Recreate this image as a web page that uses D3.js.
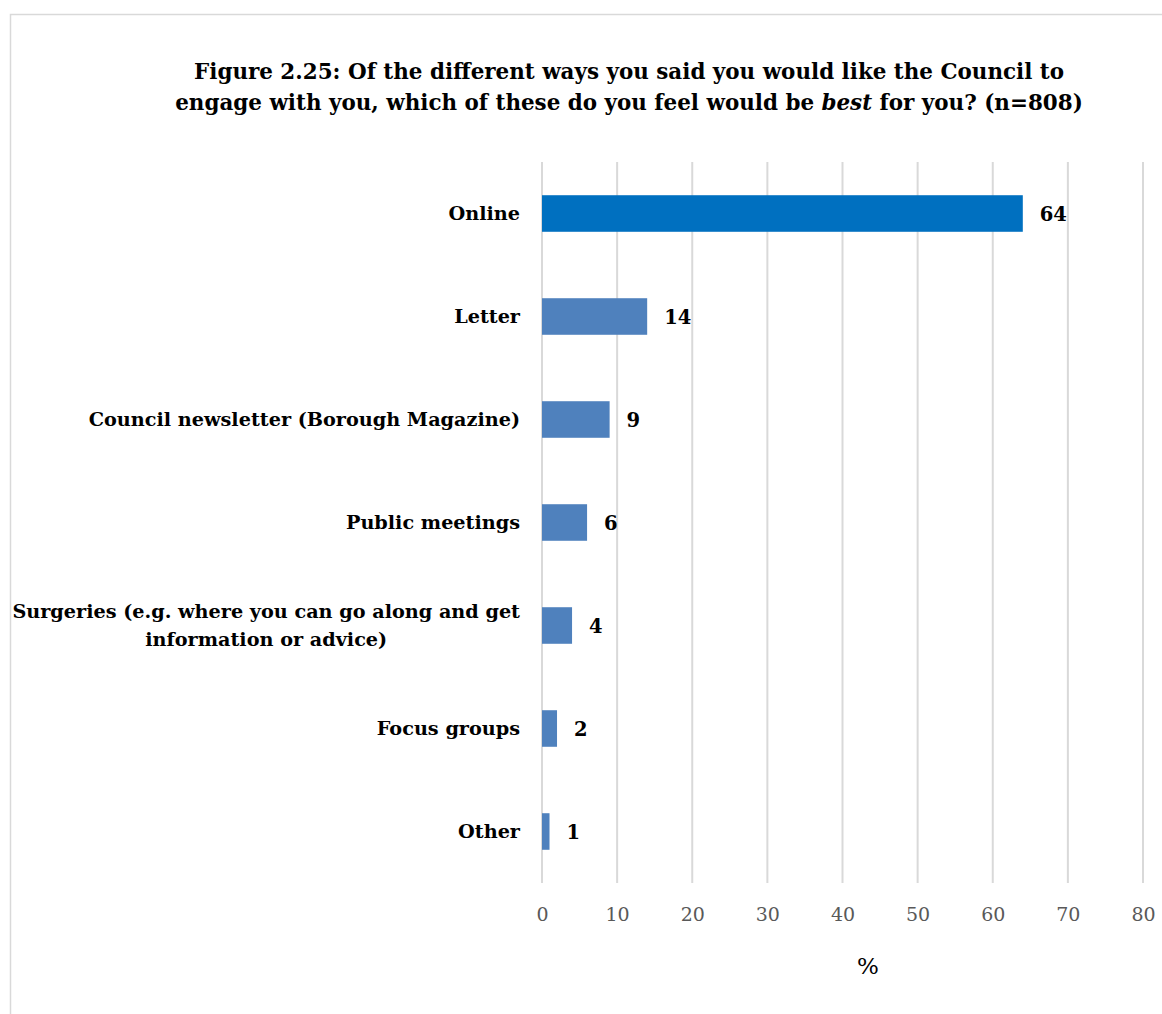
<!DOCTYPE html>
<html><head><meta charset="utf-8">
<script src="https://cdn.jsdelivr.net/npm/d3@7"></script>
<style>
html,body{margin:0;padding:0;background:#fff;}
svg{display:block;}
text{font-family:"DejaVu Serif","Liberation Serif",serif;}
</style></head>
<body>
<script>
const categories = [
  ["Online"],
  ["Letter"],
  ["Council newsletter (Borough Magazine)"],
  ["Public meetings"],
  ["Surgeries (e.g. where you can go along and get", "information or advice)"],
  ["Focus groups"],
  ["Other"]
];
const values = [64, 14, 9, 6, 4, 2, 1];
const highlight = [true, false, false, false, false, false, false];
const xTicks = [0, 10, 20, 30, 40, 50, 60, 70, 80];
const titleLines = [
  [{t:"Figure 2.25: Of the different ways you said you would like the Council to", i:false}],
  [{t:"engage with you, which of these do you feel would be ", i:false},{t:"best", i:true},{t:" for you? (n=808)", i:false}]
];
const xAxisTitle = "%";

const W = 1162, H = 1014;
const svg = d3.select("body").append("svg").attr("width", W).attr("height", H);

// frame
svg.append("rect").attr("x", 10.5).attr("y", 14.5).attr("width", W + 20).attr("height", H + 20)
  .attr("fill", "#fff").attr("stroke", "#D9D9D9").attr("stroke-width", 1.5);

const x = d3.scaleLinear().domain([0, 80]).range([542, 1143]);
const y = d3.scaleBand().domain(d3.range(values.length)).range([162, 883]).paddingInner(0.645).paddingOuter(0.3225);

// helper: font size so that text fits a target width
function fitSize(str, weight, target, base) {
  const t = svg.append("text").attr("font-size", base).attr("font-weight", weight).text(str);
  const w = t.node().getComputedTextLength();
  t.remove();
  return base * target / w;
}

// gridlines
svg.append("g").selectAll("line").data(xTicks).join("line")
  .attr("x1", d => x(d)).attr("x2", d => x(d))
  .attr("y1", 162).attr("y2", 883)
  .attr("stroke", "#D9D9D9").attr("stroke-width", 2);

// bars
svg.append("g").selectAll("rect").data(values).join("rect")
  .attr("x", x(0))
  .attr("y", (d, i) => y(i))
  .attr("width", d => x(d) - x(0))
  .attr("height", y.bandwidth())
  .attr("fill", (d, i) => highlight[i] ? "#0070C0" : "#4F81BD");

// value labels
svg.append("g").selectAll("text").data(values).join("text")
  .attr("x", d => x(d) + 17)
  .attr("y", (d, i) => y(i) + y.bandwidth() / 2)
  .attr("dy", "0.36em")
  .attr("font-size", 19.5).attr("font-weight", "bold").attr("fill", "#000")
  .text(d => d);

// category labels
const catSize = Math.min(19.5, fitSize(categories[4][0], "bold", 508, 20));
const catG = svg.append("g");
categories.forEach((lines, i) => {
  const cy = y(i) + y.bandwidth() / 2;
  if (lines.length === 1) {
    catG.append("text").attr("x", 520).attr("y", cy).attr("dy", "0.36em")
      .attr("text-anchor", "end").attr("font-size", catSize).attr("font-weight", "bold")
      .text(lines[0]);
  } else {
    const t = catG.append("text").attr("font-size", catSize).attr("font-weight", "bold");
    const first = t.append("tspan").attr("x", 520).attr("y", cy - 14).attr("dy", "0.36em")
      .attr("text-anchor", "end").text(lines[0]);
    const w = first.node().getComputedTextLength();
    const mid = 520 - w / 2;
    for (let k = 1; k < lines.length; k++) {
      t.append("tspan").attr("x", mid).attr("y", cy - 14 + 28 * k).attr("dy", "0.36em")
        .attr("text-anchor", "middle").text(lines[k]);
    }
  }
});

// x axis tick labels
const axis = d3.axisBottom(x).tickValues(xTicks).tickSize(0).tickPadding(0);
const ag = svg.append("g").attr("transform", "translate(0,907)").call(axis);
ag.select(".domain").remove();
ag.selectAll("text").attr("font-size", 19).attr("fill", "#595959")
  .attr("font-family", "DejaVu Serif, Liberation Serif, serif");

// x axis title
svg.append("text").attr("x", 868).attr("y", 974).attr("text-anchor", "middle")
  .attr("font-size", 23).attr("fill", "#000").text(xAxisTitle);

// title
const line2 = titleLines[1].map(p => p.t).join("");
const titleSize = fitSize(line2, "bold", 908, 20);
const titleBase = [79, 110];
titleLines.forEach((parts, li) => {
  const t = svg.append("text").attr("x", 629).attr("y", titleBase[li])
    .attr("text-anchor", "middle").attr("font-size", titleSize).attr("font-weight", "bold").attr("fill", "#000");
  parts.forEach(p => t.append("tspan").attr("font-style", p.i ? "italic" : "normal").text(p.t));
});
</script>
</body></html>
